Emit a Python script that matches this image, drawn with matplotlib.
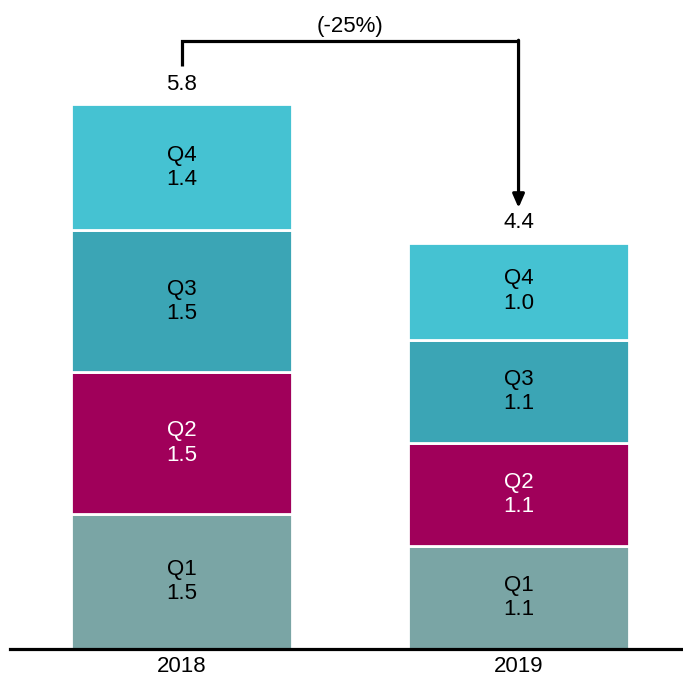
import matplotlib
matplotlib.use("Agg")
import matplotlib.pyplot as plt
import numpy as np

plt.rcParams['font.family'] = ['Liberation Sans', 'DejaVu Sans']

# data
years = ['2018', '2019']
quarters = ['Q1', 'Q2', 'Q3', 'Q4']
q1 = [1.44, 1.10]
q2 = [1.50, 1.09]
q3 = [1.51, 1.10]
q4 = [1.34, 1.03]
q_labels = [['1.5', '1.1'], ['1.5', '1.1'], ['1.5', '1.1'], ['1.4', '1.0']]
totals = ['5.8', '4.4']
change_label = '(-25%)'

colors = ['#7AA5A5', '#A0005A', '#3BA5B5', '#45C2D2']
text_colors = ['black', 'white', 'black', 'black']
fs = 16

fig = plt.figure(figsize=(6.83, 6.77), dpi=100)
ax = fig.add_axes([10 / 683, 28 / 677, 673 / 683, 649 / 677])

x = np.arange(len(years))
width = 0.656
bottoms = np.zeros(len(years))
for i, vals in enumerate([q1, q2, q3, q4]):
    ax.bar(x, vals, width, bottom=bottoms, color=colors[i],
           edgecolor='white', linewidth=2)
    for j in range(len(years)):
        ax.text(x[j], bottoms[j] + vals[j] / 2, quarters[i] + '\n' + q_labels[i][j],
                ha='center', va='center', fontsize=fs, linespacing=1.22,
                color=text_colors[i])
    bottoms = bottoms + np.array(vals)

for j in range(len(years)):
    ax.text(x[j], bottoms[j] + 0.1, totals[j], ha='center', va='bottom', fontsize=fs)

# bracket with arrow showing change
y_top = 6.46
ax.plot([x[0], x[0], x[1]], [6.20, y_top, y_top], color='black', lw=2.3,
        solid_capstyle='butt', solid_joinstyle='miter')
ax.annotate('', xy=(x[1], bottoms[1] + 0.37), xytext=(x[1], y_top + 0.012),
            arrowprops=dict(arrowstyle='-|>,head_width=0.35,head_length=0.8',
                            color='black', lw=2.3, shrinkA=0, shrinkB=0))
ax.text((x[0] + x[1]) / 2, 6.62, change_label, ha='center', va='center', fontsize=fs)

ax.set_xlim(-0.509, 1.488)
ax.set_ylim(0, 6.90)
ax.set_xticks(x)
ax.set_xticklabels(years, fontsize=fs)
ax.tick_params(axis='x', length=0, pad=5)
ax.set_yticks([])
for s in ['top', 'left', 'right']:
    ax.spines[s].set_visible(False)
ax.spines['bottom'].set_linewidth(2.3)

fig.savefig('out.png', dpi=100)
